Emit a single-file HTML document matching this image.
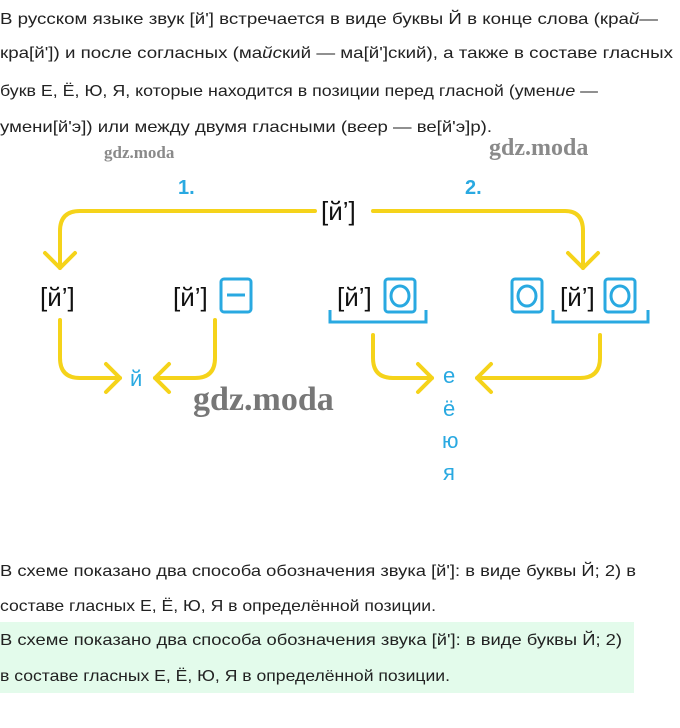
<!DOCTYPE html>
<html><head><meta charset="utf-8"><style>
html,body{margin:0;padding:0;background:#fff;}
svg{display:block;font-family:"Liberation Sans",sans-serif;}
</style></head><body>
<svg width="680" height="728" viewBox="0 0 680 728" xmlns="http://www.w3.org/2000/svg">
<rect x="0" y="622" width="634" height="71" fill="#e3fbeb"/>
<g font-size="16" fill="#222">
<text x="0" y="24" textLength="658" lengthAdjust="spacingAndGlyphs">В русском языке звук [й'] встречается в виде буквы Й в конце слова (кра<tspan font-style="italic">й</tspan>—</text>
<text x="0" y="58" textLength="673" lengthAdjust="spacingAndGlyphs">кра[й']) и после согласных (ма<tspan font-style="italic">йс</tspan>кий — ма[й']ский), а также в составе гласных</text>
<text x="0" y="96" textLength="598" lengthAdjust="spacingAndGlyphs">букв Е, Ё, Ю, Я, которые находится в позиции перед гласной (умен<tspan font-style="italic">ие</tspan> —</text>
<text x="0" y="132" textLength="492" lengthAdjust="spacingAndGlyphs">умени[й'э]) или между двумя гласными (в<tspan font-style="italic">ее</tspan>р — ве[й'э]р).</text>
<text x="0" y="576" textLength="636" lengthAdjust="spacingAndGlyphs">В схеме показано два способа обозначения звука [й']: в виде буквы Й; 2) в</text>
<text x="0" y="611" textLength="436" lengthAdjust="spacingAndGlyphs">составе гласных Е, Ё, Ю, Я в определённой позиции.</text>
<text x="0" y="645" textLength="622" lengthAdjust="spacingAndGlyphs">В схеме показано два способа обозначения звука [й']: в виде буквы Й; 2)</text>
<text x="0" y="681" textLength="450" lengthAdjust="spacingAndGlyphs">в составе гласных Е, Ё, Ю, Я в определённой позиции.</text>
</g>
<g font-family="Liberation Serif,serif" font-weight="bold" fill="#8a8a8a">
<text x="104" y="158" font-size="17">gdz.moda</text>
<text x="489" y="155" font-size="24">gdz.moda</text>
<text x="193" y="410" font-size="34" fill="#777">gdz.moda</text>
</g>
<g fill="none" stroke="#f5d31a" stroke-width="4" stroke-linecap="round" stroke-linejoin="round">
<path d="M315 211 H80 Q60 211 60 231 V268"/>
<path d="M45 253 L60 268 L75 253"/>
<path d="M373 211 H565 Q583 211 583 231 V268"/>
<path d="M568 253 L583 268 L598 253"/>
<path d="M60 320 V358 Q60 378 80 378 H120"/>
<path d="M106 364 L120 378 L106 392"/>
<path d="M215 320 V358 Q215 378 195 378 H155"/>
<path d="M169 364 L155 378 L169 392"/>
<path d="M373 335 V358 Q373 378 393 378 H432"/>
<path d="M418 364 L432 378 L418 392"/>
<path d="M600 335 V358 Q600 378 580 378 H477"/>
<path d="M491 364 L477 378 L491 392"/>
</g>
<g font-size="26" fill="#111">
<text x="321" y="220">[й’]</text>
<text x="40" y="306">[й’]</text>
<text x="173" y="306">[й’]</text>
<text x="337" y="306">[й’]</text>
<text x="560" y="306">[й’]</text>
</g>
<g fill="#29a9e1" font-size="22">
<text x="178" y="194" font-weight="bold" font-size="20">1.</text>
<text x="465" y="194" font-weight="bold" font-size="20">2.</text>
<text x="130" y="386">й</text>
<text x="443" y="383">е</text>
<text x="443" y="416">ё</text>
<text x="442" y="448">ю</text>
<text x="443" y="480">я</text>
</g>
<g fill="none" stroke="#29a9e1" stroke-width="3">
<rect x="221" y="279" width="30" height="33" rx="3"/>
<line x1="227" y1="295" x2="245" y2="295"/>
<rect x="385" y="279" width="30" height="33" rx="3"/>
<ellipse cx="400" cy="296" rx="9" ry="10"/>
<rect x="512" y="279" width="30" height="33" rx="3"/>
<ellipse cx="527" cy="296" rx="9" ry="10"/>
<rect x="605" y="279" width="30" height="33" rx="3"/>
<ellipse cx="620" cy="296" rx="9" ry="10"/>
<path d="M330 310 V322 H426 V310"/>
<path d="M553 310 V322 H648 V310"/>
</g>
</svg>
</body></html>
